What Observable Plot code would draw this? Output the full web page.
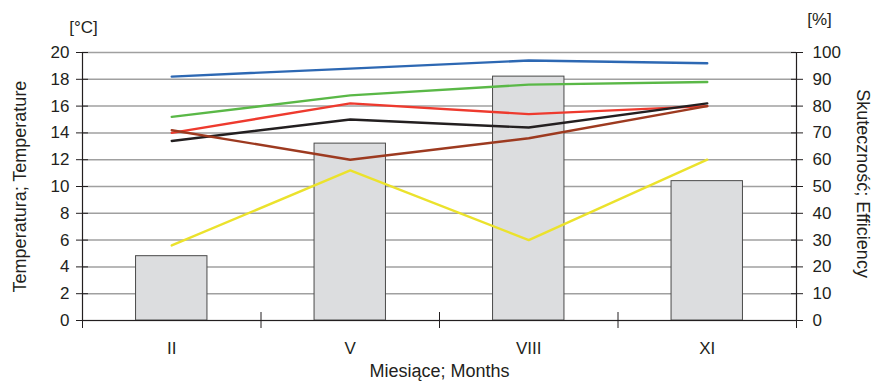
<!DOCTYPE html>
<html><head><meta charset="utf-8">
<script src="https://cdn.jsdelivr.net/npm/d3@7"></script>
<script src="https://cdn.jsdelivr.net/npm/@observablehq/plot@0.6"></script>
<style>
body{margin:0;background:#fff}
svg{font-family:"Liberation Sans",Arial,Helvetica,sans-serif}
</style>
</head><body><div id="chart"></div>
<script>
const months = ["II", "V", "VIII", "XI"];
const temperature = [4.8, 13.2, 18.2, 10.4];
const effBlue   = [91, 94, 97, 96];
const effGreen  = [76, 84, 88, 89];
const effRed    = [70, 81, 77, 80];
const effBlack  = [67, 75, 72, 81];
const effBrown  = [71, 60, 68, 80];
const effYellow = [28, 56, 30, 60];
const seriesValues = [effBlue, effGreen, effRed, effBlack, effBrown, effYellow];
const seriesColors = ["#2d68b3", "#5ab847", "#ee3a2e", "#231f20", "#9d3a20", "#ebe22c"];
const tempTicks = [0, 2, 4, 6, 8, 10, 12, 14, 16, 18, 20];
const effTicks = [0, 10, 20, 30, 40, 50, 60, 70, 80, 90, 100];
const tempTitle = "Temperatura; Temperature";
const effTitle = "Skuteczność; Efficiency";
const xTitle = "Miesiące; Months";
const tempUnit = "[°C]";
const effUnit = "[%]";

const ink = "#231f20";
const bandIdx = months.map((m, i) => i);

const lineMarks = seriesValues.map((vals, s) =>
  Plot.line(bandIdx, {
    x: i => i + 0.5,
    y: i => vals[i] / 5,
    stroke: seriesColors[s],
    strokeWidth: 2.4
  })
);

const chart = Plot.plot({
  width: 876,
  height: 382,
  marginTop: 52,
  marginBottom: 62,
  marginLeft: 82,
  marginRight: 80,
  style: {fontFamily: '"Liberation Sans", Arial, sans-serif', color: ink, background: "#fff"},
  x: {domain: [0, months.length]},
  y: {domain: [0, 20]},
  marks: [
    Plot.gridY(tempTicks, {stroke: "#a0a0a0", strokeOpacity: 1, strokeWidth: 1.5}),
    Plot.rectY(bandIdx, {
      x1: i => i + 0.3,
      x2: i => i + 0.7,
      y1: 0,
      y2: i => temperature[i],
      fill: "#dcdddf",
      stroke: "#4a4a4a",
      strokeWidth: 1
    }),
    ...lineMarks,
    Plot.frame({anchor: "left", stroke: ink, strokeWidth: 1.2}),
    Plot.frame({anchor: "right", stroke: ink, strokeWidth: 1.2}),
    Plot.ruleY([0], {stroke: ink, strokeWidth: 1.2}),
    // left axis
    Plot.axisY({anchor: "left", ticks: tempTicks, tickSize: 6, tickPadding: 7, fontSize: 17, label: null, stroke: ink, fill: ink}),
    Plot.axisY({anchor: "left", ticks: tempTicks, tickSize: -6, tickFormat: () => "", label: null, stroke: ink}),
    // right axis
    Plot.axisY({anchor: "right", ticks: tempTicks, tickSize: 6, tickPadding: 10, fontSize: 17, label: null, stroke: ink, fill: ink,
      tickFormat: d => String(effTicks[tempTicks.indexOf(d)])}),
    Plot.axisY({anchor: "right", ticks: tempTicks, tickSize: -6, tickFormat: () => "", label: null, stroke: ink}),
    // x axis
    Plot.axisX({anchor: "bottom", ticks: [0, 1, 2, 3, 4], tickSize: 8, tickFormat: () => "", label: null, stroke: ink}),
    Plot.axisX({anchor: "bottom", ticks: [1, 2, 3, 4], tickSize: -8, tickFormat: () => "", label: null, stroke: ink}),
    Plot.axisX({anchor: "bottom", ticks: bandIdx.map(i => i + 0.5), tickSize: 0, tickPadding: 21, fontSize: 17, label: null, fill: ink,
      tickFormat: d => months[Math.floor(d)]}),
    // titles
    Plot.text([tempTitle], {text: d => d, frameAnchor: "left", textAnchor: "middle", lineAnchor: "middle", rotate: -90, dx: -62, fontSize: 18, fill: ink}),
    Plot.text([effTitle], {text: d => d, frameAnchor: "right", textAnchor: "middle", lineAnchor: "middle", rotate: 90, dx: 66, dy: -3, fontSize: 18, fill: ink}),
    Plot.text([xTitle], {text: d => d, frameAnchor: "bottom", textAnchor: "middle", lineAnchor: "top", dy: 44, fontSize: 18, fill: ink}),
    Plot.text([tempUnit], {text: d => d, frameAnchor: "top-left", lineAnchor: "top", dy: -32, dx: 1, textAnchor: "middle", fontSize: 17, fill: ink}),
    Plot.text([effUnit], {text: d => d, frameAnchor: "top-right", lineAnchor: "top", dy: -40, dx: 23, textAnchor: "middle", fontSize: 17, fill: ink})
  ]
});
document.getElementById("chart").appendChild(chart);
</script>
</body></html>
